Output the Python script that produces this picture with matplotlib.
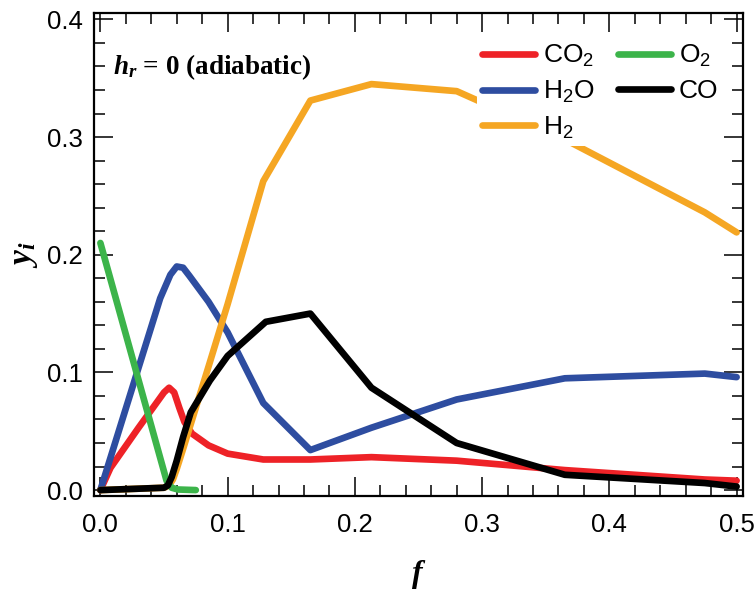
import matplotlib
matplotlib.use("Agg")
import matplotlib.pyplot as plt
from matplotlib.ticker import MultipleLocator, FormatStrFormatter

plt.rcParams["font.family"] = ["Liberation Sans", "DejaVu Sans"]
plt.rcParams["mathtext.fontset"] = "custom"
plt.rcParams["mathtext.it"] = "Liberation Serif:bold:italic"
plt.rcParams["mathtext.rm"] = "Liberation Serif:bold"
plt.rcParams["mathtext.bf"] = "Liberation Serif:bold"

# Mole fractions of the product species versus f
f_co2 = [0.0, 0.008, 0.03, 0.05, 0.054, 0.058, 0.062, 0.066, 0.072, 0.085, 0.1, 0.128, 0.165, 0.213, 0.28, 0.365, 0.475, 0.5]
y_co2 = [0.0, 0.019, 0.053, 0.083, 0.087, 0.083, 0.070, 0.058, 0.048, 0.038, 0.031, 0.026, 0.026, 0.028, 0.025, 0.017, 0.009, 0.008]

f_h2o = [0.0, 0.047, 0.055, 0.06, 0.065, 0.07, 0.085, 0.1, 0.128, 0.165, 0.213, 0.28, 0.365, 0.475, 0.5]
y_h2o = [0.0, 0.163, 0.183, 0.19, 0.189, 0.182, 0.160, 0.134, 0.074, 0.034, 0.053, 0.077, 0.095, 0.099, 0.096]

f_h2 = [0.0, 0.05, 0.054, 0.057, 0.06, 0.065, 0.085, 0.1, 0.128, 0.165, 0.213, 0.28, 0.365, 0.475, 0.5]
y_h2 = [0.0, 0.002, 0.004, 0.009, 0.018, 0.035, 0.105, 0.158, 0.2625, 0.331, 0.345, 0.339, 0.298, 0.236, 0.219]

f_o2 = [0.0, 0.052, 0.056, 0.061, 0.075]
y_o2 = [0.21, 0.008, 0.002, 0.0005, 0.0]

f_co = [0.0, 0.05, 0.053, 0.056, 0.06, 0.065, 0.071, 0.086, 0.1, 0.13, 0.165, 0.213, 0.28, 0.365, 0.475, 0.5]
y_co = [0.0, 0.002, 0.004, 0.011, 0.025, 0.045, 0.066, 0.093, 0.114, 0.143, 0.15, 0.087, 0.04, 0.013, 0.006, 0.003]

series = [
    ("CO$\\mathregular{_2}$", f_co2, y_co2, "#EE2227"),
    ("H$\\mathregular{_2}$O", f_h2o, y_h2o, "#2E4DA0"),
    ("H$\\mathregular{_2}$", f_h2, y_h2, "#F5A623"),
    ("O$\\mathregular{_2}$", f_o2, y_o2, "#3CB44A"),
    ("CO", f_co, y_co, "#000000"),
]

fig = plt.figure(figsize=(7.54, 5.92), dpi=100)
ax = fig.add_axes([0.1247, 0.1622, 0.8607, 0.8158])

for label, xs, ys, color in series:
    ax.plot(xs, ys, color=color, lw=4.8, label=label,
            solid_capstyle="round", solid_joinstyle="round")

ax.set_xlim(-0.005, 0.505)
ax.set_ylim(-0.005, 0.4054)
ax.xaxis.set_major_locator(MultipleLocator(0.1))
ax.xaxis.set_minor_locator(MultipleLocator(0.02))
ax.yaxis.set_major_locator(MultipleLocator(0.1))
ax.yaxis.set_minor_locator(MultipleLocator(0.02))
ax.xaxis.set_major_formatter(FormatStrFormatter("%.1f"))
ax.yaxis.set_major_formatter(FormatStrFormatter("%.1f"))

ax.tick_params(which="both", direction="in", top=True, right=True, width=1.1)
ax.tick_params(which="major", length=14)
ax.tick_params(which="minor", length=8)
ax.tick_params(axis="x", which="major", pad=12, labelsize=18.5)
ax.tick_params(axis="y", which="major", pad=8, labelsize=18.5)
for sp in ax.spines.values():
    sp.set_linewidth(1.6)

ax.set_xlabel("$f$", fontsize=23)
ax.set_ylabel("$y_i$", fontsize=24)
ax.xaxis.set_label_coords(0.5, -0.128)
ax.yaxis.set_label_coords(-0.084, 0.5)

ax.text(0.03, 0.888, "$h_r$ = 0 (adiabatic)", transform=ax.transAxes,
        fontsize=19.5, family="Liberation Serif", fontweight="bold", va="center")

leg = ax.legend(ncol=2, loc="upper left", bbox_to_anchor=(0.57, 0.976),
                fontsize=19, frameon=True, framealpha=1.0, edgecolor="none",
                facecolor="white", fancybox=False, handlelength=2.0,
                handletextpad=0.3, columnspacing=0.9, labelspacing=0.36,
                borderpad=0.2)

fig.savefig("out.png", dpi=100)
